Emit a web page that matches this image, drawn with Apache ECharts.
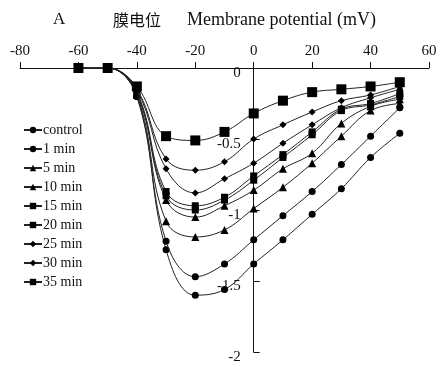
<!DOCTYPE html>
<html>
<head>
<meta charset="utf-8">
<script src="https://cdn.jsdelivr.net/npm/echarts@6/dist/echarts.min.js"></script>
<style>html,body{margin:0;padding:0;background:#fff;}#c{width:441px;height:367px;}</style>
</head>
<body>
<div id="c"></div>
<script>
const voltages = [-60, -50, -40, -30, -20, -10, 0, 10, 20, 30, 40, 50];
const seriesNames = ['control', '1 min', '5 min', '10 min', '15 min', '20 min', '25 min', '30 min', '35 min'];
const control = [0, 0, -0.20, -1.28, -1.60, -1.56, -1.38, -1.21, -1.03, -0.85, -0.63, -0.46];
const min1    = [0, 0, -0.20, -1.22, -1.47, -1.38, -1.21, -1.04, -0.87, -0.68, -0.48, -0.28];
const min5    = [0, 0, -0.19, -1.08, -1.19, -1.14, -0.99, -0.84, -0.67, -0.48, -0.30, -0.25];
const min10   = [0, 0, -0.18, -0.93, -1.05, -0.97, -0.86, -0.71, -0.60, -0.39, -0.27, -0.22];
const min15   = [0, 0, -0.18, -0.90, -1.00, -0.93, -0.79, -0.63, -0.47, -0.30, -0.26, -0.20];
const min20   = [0, 0, -0.17, -0.87, -0.97, -0.91, -0.76, -0.61, -0.45, -0.29, -0.25, -0.18];
const min25   = [0, 0, -0.16, -0.71, -0.88, -0.78, -0.67, -0.53, -0.40, -0.28, -0.21, -0.15];
const min30   = [0, 0, -0.15, -0.64, -0.72, -0.66, -0.50, -0.40, -0.31, -0.23, -0.19, -0.13];
const min35   = [0, 0, -0.13, -0.48, -0.51, -0.45, -0.32, -0.23, -0.17, -0.15, -0.13, -0.10];
const xTicks = [-80, -60, -40, -20, 0, 20, 40, 60];
const yTicks = [-2, -1.5, -1, -0.5, 0];

const values = [control, min1, min5, min10, min15, min20, min25, min30, min35];
const symbols = ['circle', 'circle', 'triangle', 'triangle', 'rect', 'rect', 'diamond', 'diamond', 'rect'];
const sizes = [7, 7, 8, 8, 7, 7, 7, 7, 10];

const serif = '"Liberation Serif", "DejaVu Serif", serif';
const W = 441, gridLeft = 20, gridRight = 12;
const xMin = -80, xMax = 60;
const zeroOffset = (0 - xMin) / (xMax - xMin) * (W - gridLeft - gridRight);

const chart = echarts.init(document.getElementById('c'), null, {renderer: 'canvas'});
chart.setOption({
  animation: false,
  backgroundColor: '#fff',
  title: [
    {text: 'A', left: 48, top: 6, textStyle: {fontFamily: serif, fontSize: 17, fontWeight: 'normal', color: '#111'}},
    {text: '膜电位', left: 108, top: 7,
     textStyle: {fontFamily: '"Noto Sans CJK SC", sans-serif', fontSize: 16, fontWeight: 'normal', color: '#111'}},
    {text: 'Membrane potential (mV)', left: 182, top: 6,
     textStyle: {fontFamily: serif, fontSize: 18, fontWeight: 'normal', color: '#111'}}
  ],
  legend: {
    orient: 'vertical', left: 18, top: 118,
    itemWidth: 18, itemHeight: 8, itemGap: 5,
    data: seriesNames,
    textStyle: {fontFamily: serif, fontSize: 14, color: '#111', padding: [0, 0, 0, -4]}
  },
  grid: {left: gridLeft, right: gridRight, top: 68, bottom: 15, containLabel: false, outerBoundsMode: 'none'},
  xAxis: {
    type: 'value', min: xMin, max: xMax, interval: 20, position: 'top',
    axisLine: {onZero: false, lineStyle: {color: '#111', width: 1}},
    axisTick: {show: true, length: 6, lineStyle: {color: '#111'}},
    axisLabel: {fontFamily: serif, fontSize: 15, color: '#111', margin: 9,
      formatter: v => xTicks.includes(v) ? String(v) : ''},
    splitLine: {show: false}
  },
  yAxis: {
    type: 'value', min: -2, max: 0, interval: 0.5, position: 'left', offset: -zeroOffset,
    axisLine: {onZero: false, lineStyle: {color: '#111', width: 1}},
    axisTick: {show: true, inside: true, length: 6, lineStyle: {color: '#111'}},
    axisLabel: {fontFamily: serif, fontSize: 15, color: '#111', margin: 13,
      verticalAlign: 'top', lineHeight: 10,
      formatter: v => yTicks.includes(v) ? String(v) : ''},
    splitLine: {show: false}
  },
  series: seriesNames.map((name, i) => ({
    name: name,
    type: 'line',
    smooth: 0.4,
    data: voltages.map((v, j) => [v, values[i][j]]),
    symbol: symbols[i],
    symbolSize: sizes[i],
    showSymbol: true,
    lineStyle: {color: '#222', width: 1},
    itemStyle: {color: '#000'},
    z: 2 + i
  }))
});
</script>
</body>
</html>
